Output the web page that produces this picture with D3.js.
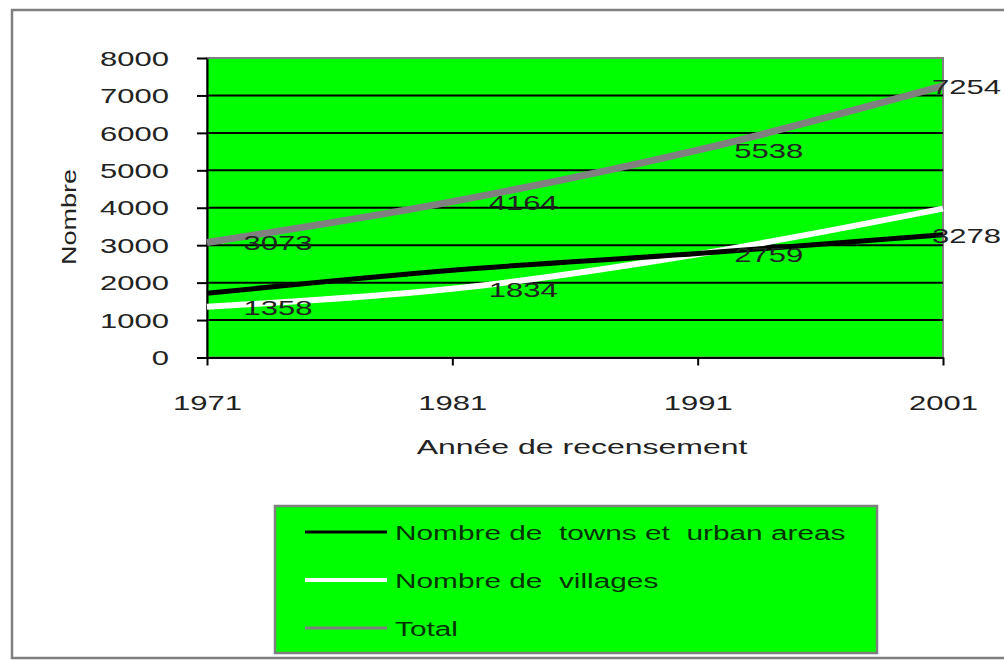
<!DOCTYPE html>
<html>
<head>
<meta charset="utf-8">
<script src="https://cdn.jsdelivr.net/npm/d3@7"></script>
<style>
  body { margin: 0; background: #fff; }
  svg { display: block; font-family: Arial, "Liberation Sans", sans-serif; }
  text { white-space: pre; }
</style>
</head>
<body>
<svg id="chart" width="1004" height="660"></svg>
<script>
// census years and counts
const years = ["1971", "1981", "1991", "2001"];
const towns = [1715, 2330, 2779, 3278];
const villages = [1358, 1834, 2759, 3976];
const totals = [3073, 4164, 5538, 7254];
const yTicks = [0, 1000, 2000, 3000, 4000, 5000, 6000, 7000, 8000];

const seriesNames = ["Nombre de  towns et  urban areas", "Nombre de  villages", "Total"];
// which points carry a value label
const labelled = [
    {series: 2, index: 0}, {series: 2, index: 1}, {series: 2, index: 2}, {series: 2, index: 3},
    {series: 1, index: 0}, {series: 1, index: 1}, {series: 1, index: 2},
    {series: 0, index: 3}
];

const seriesData = [towns, villages, totals];
const seriesStyle = [
    {stroke: "#000000", width: 5, legendWidth: 3},
    {stroke: "#ffffff", width: 6, legendWidth: 4},
    {stroke: "#808080", width: 7, legendWidth: 3}
];

const svg = d3.select("#chart");
const plot = {left: 207, right: 943, top: 58, bottom: 357.5};
const textColor = "#222";
const sx = 1.55; // text in the picture is drawn wide

// outer frame
svg.append("rect")
    .attr("x", 12).attr("y", 10)
    .attr("width", 1010).attr("height", 648)
    .attr("fill", "#fff")
    .attr("stroke", "#808080")
    .attr("stroke-width", 2.5);

const x = d3.scalePoint().domain(years).range([plot.left, plot.right]);
const y = d3.scaleLinear().domain([0, 8000]).range([plot.bottom, plot.top]);

// plot area
svg.append("rect")
    .attr("x", plot.left).attr("y", plot.top)
    .attr("width", plot.right - plot.left).attr("height", plot.bottom - plot.top)
    .attr("fill", "#00ff00")
    .attr("stroke", "#808080")
    .attr("stroke-width", 2);

svg.append("g")
    .selectAll("line")
    .data(yTicks.filter(d => d > 0 && d < 8000))
    .join("line")
    .attr("x1", plot.left).attr("x2", plot.right)
    .attr("y1", d => y(d)).attr("y2", d => y(d))
    .attr("stroke", "#000")
    .attr("stroke-width", 2);

// axes
const yAxis = svg.append("g")
    .attr("transform", `translate(${plot.left},0)`)
    .call(d3.axisLeft(y).tickValues(yTicks).tickFormat(d3.format("d")).tickSize(10).tickSizeOuter(0));
yAxis.select(".domain").attr("stroke", "#000").attr("stroke-width", 2);
yAxis.selectAll(".tick line").attr("stroke", "#000").attr("stroke-width", 2);
yAxis.selectAll(".tick text")
    .attr("x", 0)
    .attr("dy", "0.36em")
    .attr("transform", `translate(-38,0) scale(${sx},1)`)
    .attr("font-size", 20)
    .attr("fill", textColor);

const xAxis = svg.append("g")
    .attr("transform", `translate(0,${plot.bottom})`)
    .call(d3.axisBottom(x).tickSize(8).tickSizeOuter(0));
xAxis.select(".domain").attr("stroke", "#000").attr("stroke-width", 2);
xAxis.selectAll(".tick line").attr("stroke", "#000").attr("stroke-width", 2);
xAxis.selectAll(".tick text")
    .attr("y", 0)
    .attr("dy", 0)
    .attr("transform", `translate(0,52) scale(${sx},1)`)
    .attr("font-size", 20)
    .attr("fill", textColor);

// axis titles
svg.append("text")
    .attr("transform", `translate(76,217) rotate(-90) scale(1.35,1)`)
    .attr("text-anchor", "middle")
    .attr("font-size", 20)
    .attr("fill", textColor)
    .text("Nombre");

svg.append("text")
    .attr("transform", `translate(582,454) scale(1.6,1)`)
    .attr("text-anchor", "middle")
    .attr("font-size", 20)
    .attr("fill", textColor)
    .text("Année de recensement");

// lines, drawn total first so the others sit on top
const line = d3.line()
    .x((d, i) => x(years[i]))
    .y(d => y(d))
    .curve(d3.curveCatmullRom.alpha(0.5));

[2, 1, 0].forEach(s => {
    svg.append("path")
        .datum(seriesData[s])
        .attr("d", line)
        .attr("fill", "none")
        .attr("stroke", seriesStyle[s].stroke)
        .attr("stroke-width", seriesStyle[s].width)
        .attr("stroke-linecap", "butt");
});

// value labels, pushed left when they would run off the right side
svg.append("g")
    .selectAll("text")
    .data(labelled)
    .join("text")
    .attr("transform", d => {
        const px = x(years[d.index]);
        const py = y(seriesData[d.series][d.index]);
        const lx = d.index === years.length - 1 ? 1001 : px + 71;
        return `translate(${lx},${py}) scale(${sx},1)`;
    })
    .attr("text-anchor", d => d.index === years.length - 1 ? "end" : "middle")
    .attr("dy", "0.4em")
    .attr("font-size", 20)
    .attr("fill", textColor)
    .text(d => seriesData[d.series][d.index]);

// legend
const legend = svg.append("g").attr("transform", "translate(275,506)");
legend.append("rect")
    .attr("width", 602).attr("height", 147)
    .attr("fill", "#00ff00")
    .attr("stroke", "#808080")
    .attr("stroke-width", 2.5);

const rows = legend.selectAll("g.row")
    .data(seriesNames)
    .join("g")
    .attr("class", "row")
    .attr("transform", (d, i) => `translate(0,${26 + i * 48})`);
rows.append("line")
    .attr("x1", 30).attr("x2", 112)
    .attr("stroke", (d, i) => seriesStyle[i].stroke)
    .attr("stroke-width", (d, i) => seriesStyle[i].legendWidth);
rows.append("text")
    .attr("transform", `translate(120,0) scale(1.42,1)`)
    .attr("dy", "0.36em")
    .attr("font-size", 21)
    .attr("fill", "#003300")
    .text(d => d);
</script>
</body>
</html>
